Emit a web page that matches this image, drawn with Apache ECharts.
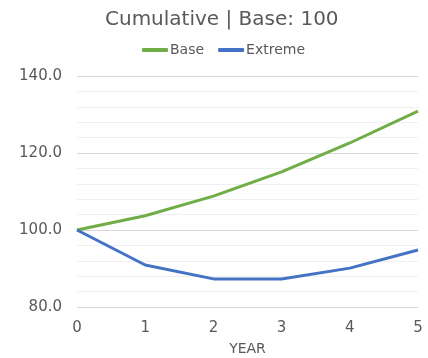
<!DOCTYPE html>
<html>
<head>
<meta charset="utf-8">
<script src="https://cdn.jsdelivr.net/npm/echarts@6/dist/echarts.min.js"></script>
<style>
  html, body { margin: 0; padding: 0; background: #fff; }
  #chart { width: 428px; height: 358px; }
</style>
</head>
<body>
<div id="chart"></div>
<script>
// Year axis and cumulative index values for each scenario
const years = ['0', '1', '2', '3', '4', '5'];
const baseValues = [100, 103.7, 108.8, 115.1, 122.6, 130.9];
const extremeValues = [100, 90.9, 87.3, 87.3, 90.1, 94.8];

const FONT = 'DejaVu Sans';
const TEXT = '#595959';

const chart = echarts.init(document.getElementById('chart'), null, { renderer: 'canvas' });
chart.setOption({
  animation: false,
  title: {
    text: 'Cumulative | Base: 100',
    left: 100,
    top: 5,
    textStyle: { fontFamily: FONT, fontSize: 20, fontWeight: 'normal', color: TEXT }
  },
  legend: {
    top: 38,
    left: 137,
    itemWidth: 26,
    itemHeight: 4,
    itemGap: 14,
    textStyle: { fontFamily: FONT, fontSize: 14, color: TEXT, padding: [0, 0, 0, -3] },
    icon: 'roundRect',
    data: ['Base', 'Extreme']
  },
  grid: { left: 77, right: 10, top: 76, bottom: 51, containLabel: false, outerBoundsMode: 'none' },
  xAxis: {
    type: 'category',
    data: years,
    boundaryGap: false,
    name: 'YEAR',
    nameLocation: 'middle',
    nameGap: 35,
    nameTextStyle: { fontFamily: FONT, fontSize: 14, color: TEXT },
    axisLine: { show: false },
    axisTick: { show: false },
    axisLabel: { fontFamily: FONT, fontSize: 15, color: TEXT, margin: 14 },
    splitLine: { show: false }
  },
  yAxis: {
    type: 'value',
    min: 80,
    max: 140,
    interval: 20,
    axisLine: { show: false },
    axisTick: { show: false },
    axisLabel: {
      fontFamily: FONT, fontSize: 15, color: TEXT, margin: 15,
      formatter: v => v.toFixed(1)
    },
    splitLine: { show: true, lineStyle: { color: '#d9d9d9', width: 1 } },
    minorTick: { show: false, splitNumber: 5 },
    minorSplitLine: { show: true, lineStyle: { color: '#f0f0f0', width: 1 } }
  },
  series: [
    {
      name: 'Base',
      type: 'line',
      data: baseValues,
      smooth: false,
      symbol: 'none',
      lineStyle: { color: '#70ad47', width: 3 },
      itemStyle: { color: '#70ad47' }
    },
    {
      name: 'Extreme',
      type: 'line',
      data: extremeValues,
      smooth: false,
      symbol: 'none',
      lineStyle: { color: '#4472c4', width: 3 },
      itemStyle: { color: '#4472c4' }
    }
  ]
});
</script>
</body>
</html>
